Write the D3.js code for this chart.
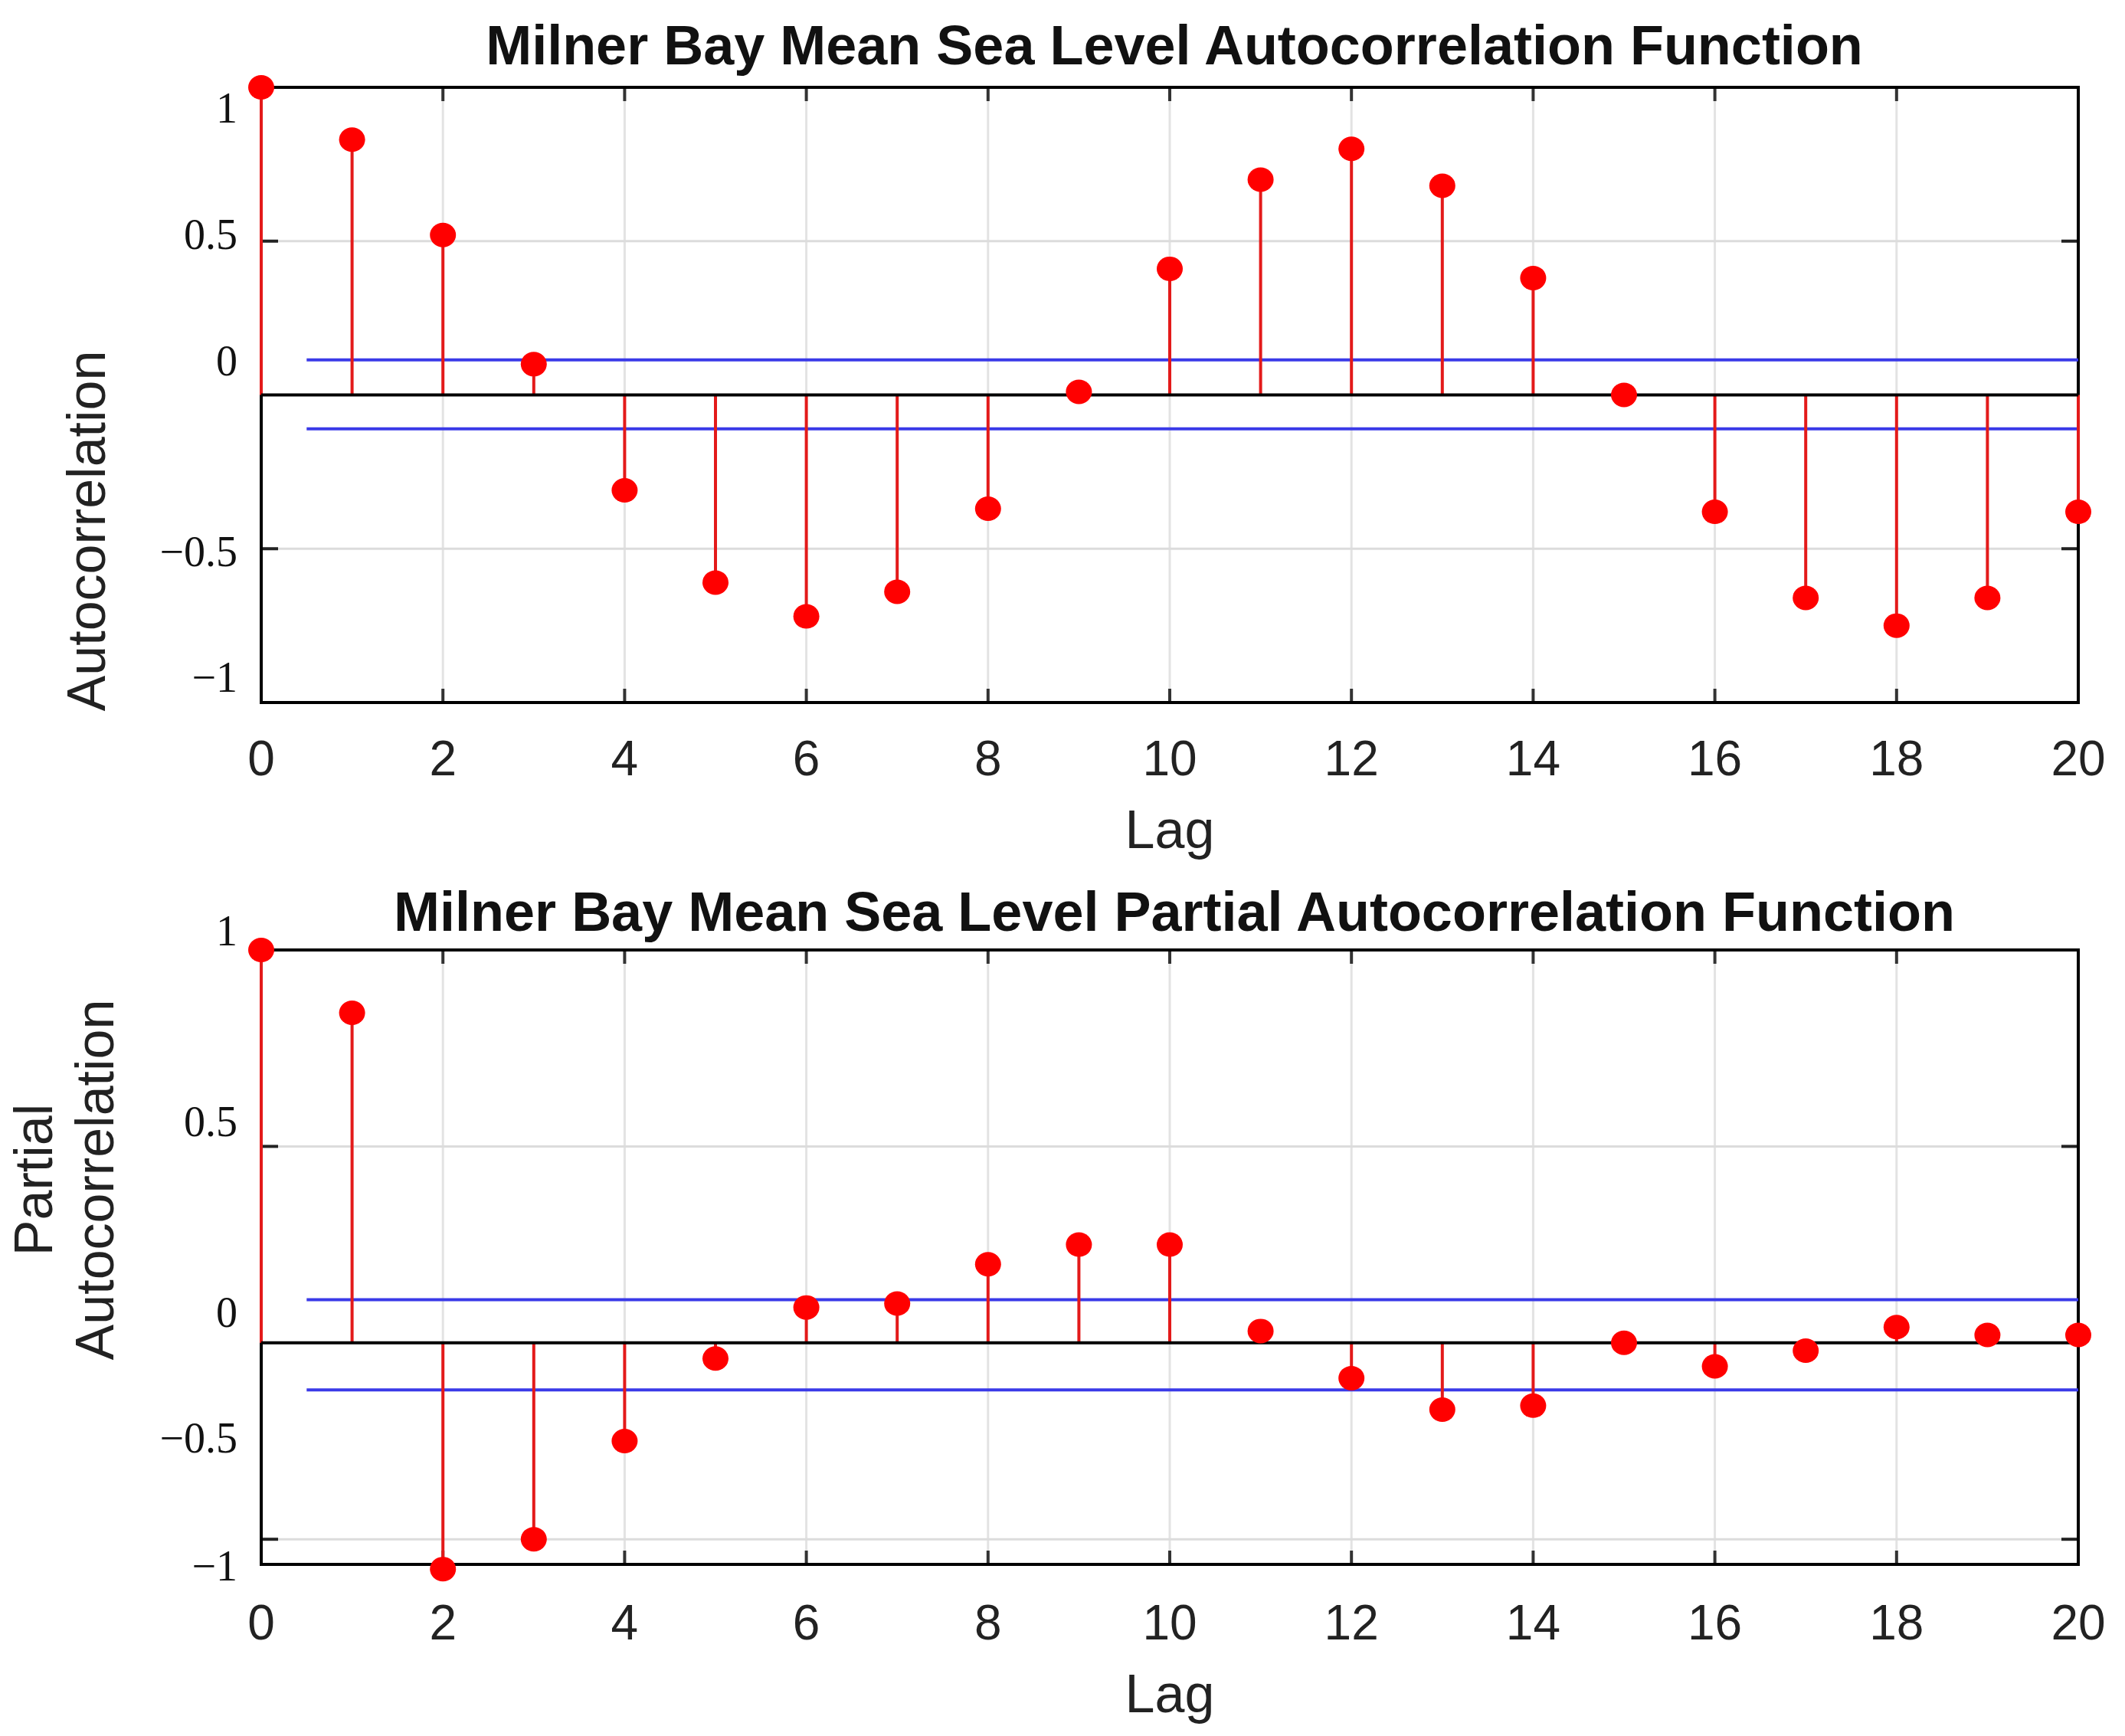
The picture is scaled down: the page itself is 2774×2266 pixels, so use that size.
<!DOCTYPE html><html><head><meta charset="utf-8"><script src="https://cdn.jsdelivr.net/npm/d3@7"></script>
<style>body{margin:0;background:#fff}</style></head><body><svg id="c" width="2774" height="2266"></svg>
<script>
const lags = d3.range(0,21);
const acf = [1.0,0.83,0.52,0.10,-0.31,-0.61,-0.72,-0.64,-0.37,0.01,0.41,0.70,0.80,0.68,0.38,0.0,-0.38,-0.66,-0.75,-0.66,-0.38];
const pacf = [1.0,0.84,-0.576,-0.50,-0.25,-0.04,0.09,0.10,0.20,0.25,0.25,0.03,-0.09,-0.17,-0.16,0.0,-0.06,-0.02,0.04,0.02,0.02];
const acfBounds = [0.114,-0.11];
const pacfBounds = [0.11,-0.12];
const xTicks = [0,2,4,6,8,10,12,14,16,18,20];
const yTickLabels = ["1","0.5","0","\u22120.5","\u22121"];

const svg = d3.select("#c");
function panel(o){
  const x = d3.scaleLinear().domain([0,20]).range([341,2713]);
  const y = d3.scaleLinear().domain(o.ydom).range([o.bottom,o.top]);
  const g = svg.append("g");
  g.selectAll(".vg").data(xTicks.slice(1,-1)).join("line").attr("x1",d=>x(d)).attr("x2",d=>x(d)).attr("y1",o.top).attr("y2",o.bottom).attr("stroke","#e3e3e3").attr("stroke-width",3);
  g.selectAll(".hg").data(o.hgrid).join("line").attr("x1",x(0)).attr("x2",x(20)).attr("y1",d=>y(d)).attr("y2",d=>y(d)).attr("stroke","#dcdcdc").attr("stroke-width",3);
  xTicks.slice(1,-1).forEach(t=>{
    g.append("line").attr("x1",x(t)).attr("x2",x(t)).attr("y1",o.top).attr("y2",o.top+18).attr("stroke","#333").attr("stroke-width",4);
    g.append("line").attr("x1",x(t)).attr("x2",x(t)).attr("y1",o.bottom).attr("y2",o.bottom-18).attr("stroke","#333").attr("stroke-width",4);
  });
  o.hgrid.forEach(t=>{
    g.append("line").attr("x1",x(0)).attr("x2",x(0)+22).attr("y1",y(t)).attr("y2",y(t)).attr("stroke","#222").attr("stroke-width",4);
    g.append("line").attr("x1",x(20)).attr("x2",x(20)-22).attr("y1",y(t)).attr("y2",y(t)).attr("stroke","#222").attr("stroke-width",4);
  });
  g.append("rect").attr("x",x(0)).attr("y",o.top).attr("width",x(20)-x(0)).attr("height",o.bottom-o.top).attr("fill","none").attr("stroke","#000").attr("stroke-width",4);
  o.bounds.forEach(b=>g.append("line").attr("x1",x(0.5)).attr("x2",x(20)).attr("y1",y(b)).attr("y2",y(b)).attr("stroke","#3a3ae8").attr("stroke-width",4));
  g.selectAll(".st").data(o.vals).join("line").attr("x1",(d,i)=>x(lags[i])).attr("x2",(d,i)=>x(lags[i])).attr("y1",y(0)).attr("y2",d=>y(d)).attr("stroke","#e31a1a").attr("stroke-width",4);
  g.append("line").attr("x1",x(0)).attr("x2",x(20)).attr("y1",y(0)).attr("y2",y(0)).attr("stroke","#000").attr("stroke-width",4);
  g.selectAll(".dt").data(o.vals).join("ellipse").attr("cx",(d,i)=>x(lags[i])).attr("cy",d=>y(d)).attr("rx",17).attr("ry",16).attr("fill","#f00");
  g.selectAll(".xl").data(xTicks).join("text").attr("x",d=>x(d)).attr("y",o.xlabY).attr("text-anchor","middle").attr("font-family","Liberation Sans, Arial").attr("font-size",64).attr("fill","#222").text(d=>d);
  g.append("text").attr("x",x(10)).attr("y",o.xlabY+95).attr("text-anchor","middle").attr("font-family","Liberation Sans, Arial").attr("font-size",70).attr("fill","#222").text("Lag");
  yTickLabels.forEach((t,i)=>g.append("text").attr("x",310).attr("y",o.ylabY[i]).attr("text-anchor","end").attr("dominant-baseline","middle").attr("font-family","Liberation Serif, Times New Roman").attr("font-size",56).attr("fill","#111").text(t));
  g.append("text").attr("x",1533).attr("y",o.titleY).attr("text-anchor","middle").attr("font-family","Liberation Sans, Arial").attr("font-weight","bold").attr("font-size",72).attr("fill","#111").text(o.title);
  const yl = g.append("text").attr("transform",`translate(0,${o.ylabCenter}) rotate(-90)`).attr("text-anchor","middle").attr("font-family","Liberation Sans, Arial").attr("font-size",70).attr("fill","#222");
  o.ylab.forEach((t,i)=>yl.append("tspan").attr("x",0).attr("y",o.ylabX[i]).text(t));
}
panel({top:114,bottom:917,ydom:[-1,1],vals:acf,bounds:acfBounds,hgrid:[0.5,-0.5],xlabY:1012,ylabY:[147,312,477,726,890],titleY:84,ylabCenter:693,
  title:"Milner Bay Mean Sea Level Autocorrelation Function",ylab:["Autocorrelation"],ylabX:[137]});
panel({top:1240,bottom:2042,ydom:[-0.564,1],vals:pacf,bounds:pacfBounds,hgrid:[0.5,-0.5],xlabY:2140,ylabY:[1221,1470,1719,1883,2050],titleY:1215,ylabCenter:1540,
  title:"Milner Bay Mean Sea Level Partial Autocorrelation Function",ylab:["Partial","Autocorrelation"],ylabX:[68,148]});
</script></body></html>
